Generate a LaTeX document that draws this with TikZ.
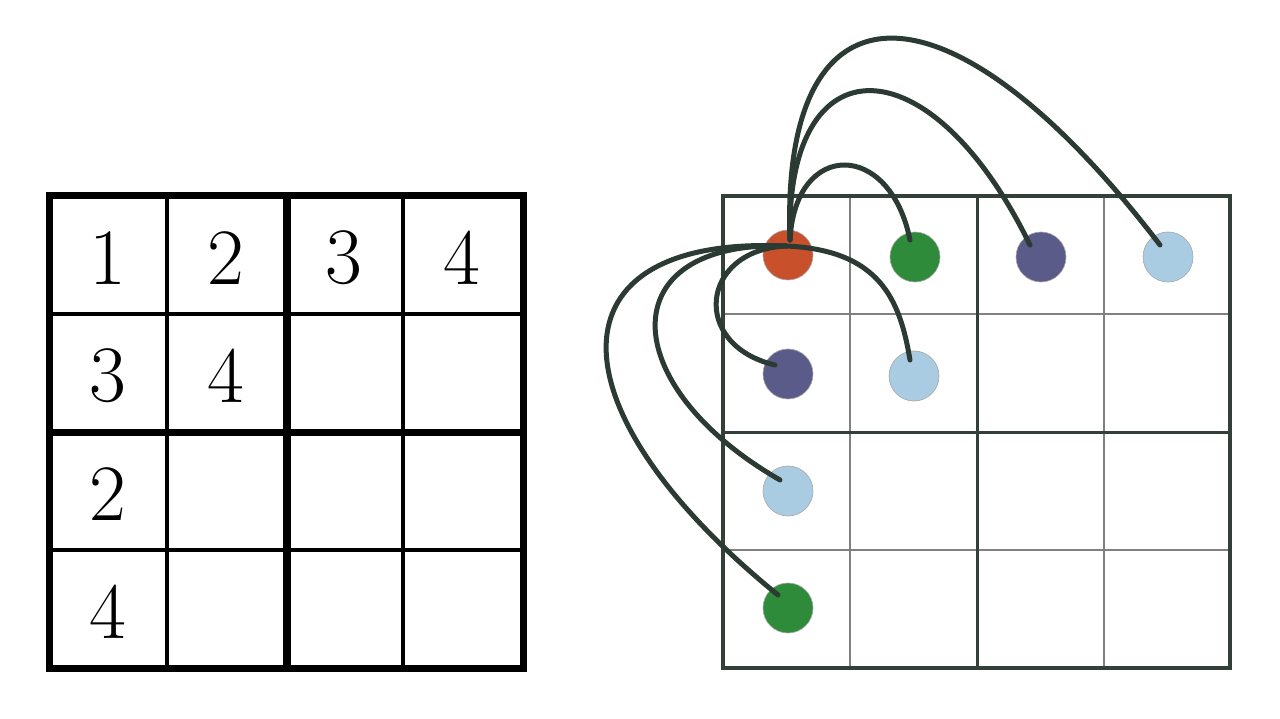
\documentclass[tikz,border=0pt]{standalone}
\begin{document}
\begin{tikzpicture}[x=1pt,y=-1pt,
  dot/.style={circle,minimum size=50pt,inner sep=0pt,draw=gray!70,line width=0.6pt},
  link/.style={draw=curvecol,line width=5pt,line cap=round},
  num/.style={font=\fontsize{80}{90}\selectfont}]
\definecolor{curvecol}{HTML}{2B3A33}
\definecolor{gridcol}{HTML}{33403A}
\definecolor{corange}{HTML}{C8502A}
\definecolor{cgreen}{HTML}{2E8B3A}
\definecolor{cpurple}{HTML}{5B5B8A}
\definecolor{cblue}{HTML}{A9CCE3}
\useasboundingbox[fill=white] (0,0) rectangle (1280,719);
% left grid
\foreach \i in {1,2,3} {
  \draw[line width=3.5pt] (49+118*\i,196) -- (49+118*\i,668);
  \draw[line width=3.5pt] (49,196+118*\i) -- (523,196+118*\i);}
\draw[line width=7pt] (287,196) -- (287,668);
\draw[line width=7pt] (49,432) -- (523,432);
\draw[line width=7pt] (49,196) rectangle (523,668);
\node[num] (n11) at (108,258) {1};
\node[num] (n12) at (226,258) {2};
\node[num] (n13) at (344,258) {3};
\node[num] (n14) at (462,258) {4};
\node[num] (n21) at (108,376) {3};
\node[num] (n22) at (226,376) {4};
\node[num] (n31) at (108,494) {2};
\node[num] (n41) at (108,612) {4};
% right grid
\foreach \i in {1,3} {
  \draw[gray,line width=1.5pt] (723+127*\i,196) -- (723+127*\i,668);
  \draw[gray,line width=1.5pt] (723,196+118*\i) -- (1230,196+118*\i);}
\draw[gridcol,line width=3pt] (977,196) -- (977,668);
\draw[gridcol,line width=3pt] (723,432) -- (1230,432);
\draw[gridcol,line width=4pt] (723,196) rectangle (1230,668);
\node[dot,fill=corange] (o) at (788,255) {};
\node[dot,fill=cgreen] (g1) at (915,257) {};
\node[dot,fill=cpurple] (p1) at (1041,257) {};
\node[dot,fill=cblue] (b1) at (1168,257) {};
\node[dot,fill=cpurple] (p2) at (788,374) {};
\node[dot,fill=cblue] (b2) at (914,376) {};
\node[dot,fill=cblue] (b3) at (788,491) {};
\node[dot,fill=cgreen] (g4) at (788,608) {};
\coordinate (s) at (790,240);
\coordinate (s2) at (786,246);
\coordinate (e1) at (1160,245);
\coordinate (e2) at (1030,245);
\coordinate (e3) at (910,240);
\coordinate (e4) at (775,365);
\coordinate (e5) at (910,360);
\coordinate (e6) at (780,480);
\coordinate (e7) at (778,595);
\draw[link] (s) .. controls (780,-30) and (950,-30) .. (e1);
\draw[link] (s) .. controls (785,40) and (930,40) .. (e2);
\draw[link] (s) .. controls (795,140) and (890,140) .. (e3);
\draw[link] (s2) .. controls (700,250) and (690,345) .. (e4);
\draw[link] (s2) .. controls (880,250) and (900,300) .. (e5);
\draw[link] (s2) .. controls (610,240) and (615,385) .. (e6);
\draw[link] (s2) .. controls (545,235) and (550,410) .. (e7);
\end{tikzpicture}
\end{document}
